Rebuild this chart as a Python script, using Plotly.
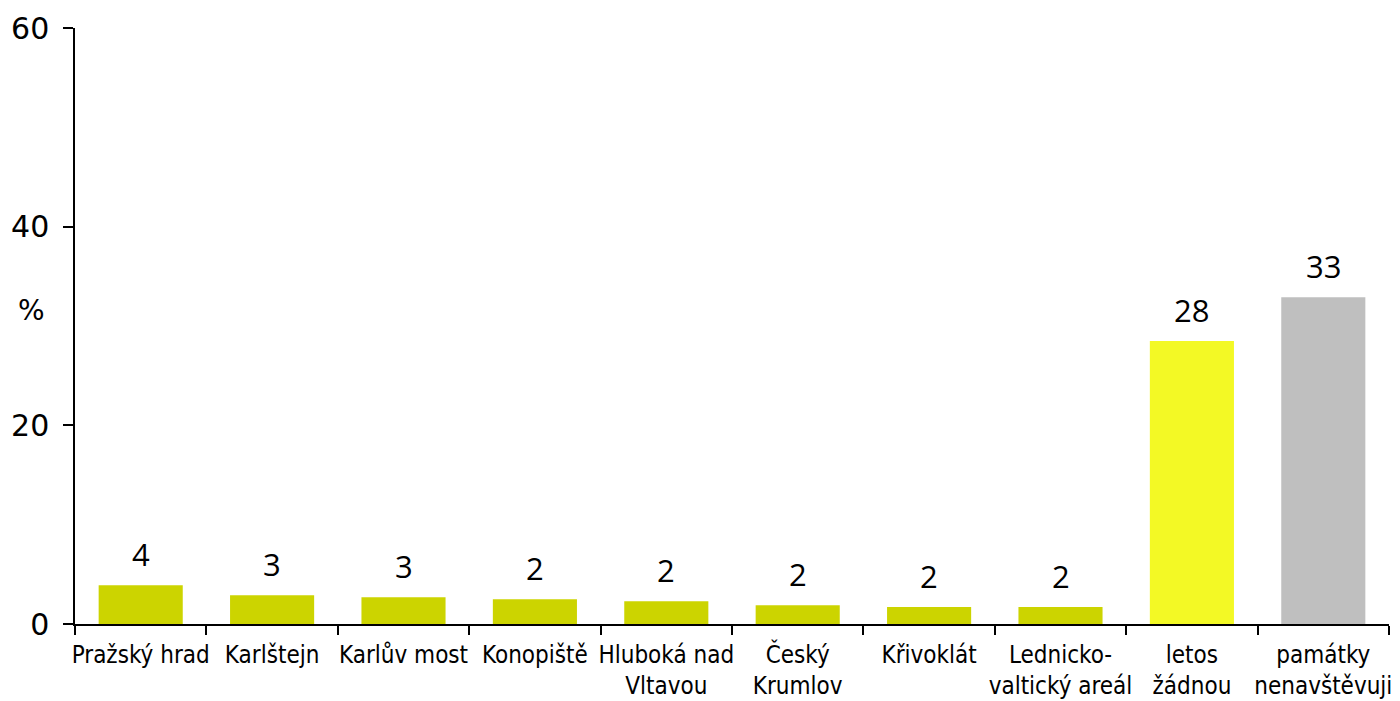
import plotly.graph_objects as go

# Data
categories = ["Pražský hrad", "Karlštejn", "Karlův most", "Konopiště", "Hluboká nad<br>Vltavou",
              "Český<br>Krumlov", "Křivoklát", "Lednicko-<br>valtický areál", "letos<br>žádnou",
              "památky<br>nenavštěvuji"]
values = [3.9, 2.9, 2.7, 2.5, 2.3, 1.9, 1.7, 1.7, 28.5, 32.9]
value_labels = ["4", "3", "3", "2", "2", "2", "2", "2", "28", "33"]
bar_colors = ["#CCD400"] * 8 + ["#F3F925", "#BFBFBF"]

fig = go.Figure()
fig.add_trace(go.Bar(
    x=categories,
    y=values,
    marker=dict(color=bar_colors, line=dict(width=0)),
    hoverinfo="skip",
))

# value labels above bars
for cat, val, lab in zip(categories, values, value_labels):
    fig.add_annotation(
        x=cat, y=val, text=lab, showarrow=False,
        xanchor="center", yanchor="bottom", yshift=8,
        font=dict(family="Open Sans", size=31, color="#000000"),
    )

# page body adds an 8px offset, so the figure is a bit smaller than the window
fig.update_layout(
    width=1392, height=693,
    plot_bgcolor="#ffffff",
    paper_bgcolor="#ffffff",
    margin=dict(l=67, r=11, t=20, b=77),
    bargap=0.36,
    showlegend=False,
    xaxis=dict(
        type="category",
        tickson="boundaries",
        ticks="outside", ticklen=9, tickwidth=1.5, tickcolor="#000000",
        showline=True, linecolor="#000000", linewidth=1.5,
        showgrid=False, automargin=False,
        ticklabelstandoff=8,
        tickfont=dict(family="DejaVu Sans Condensed, Liberation Sans", size=24, color="#000000"),
        tickangle=0,
    ),
    yaxis=dict(
        range=[0, 60],
        tickvals=[0, 20, 40, 60],
        ticks="outside", ticklen=10, tickwidth=1.5, tickcolor="#000000",
        showline=True, linecolor="#000000", linewidth=1.5,
        showgrid=False, zeroline=False, automargin=False,
        ticklabelstandoff=8,
        tickfont=dict(family="DejaVu Sans", size=30, color="#000000"),
    ),
)

fig.add_annotation(
    text="%", x=-0.033, xref="paper", y=31.6, yref="y",
    showarrow=False, xanchor="center", yanchor="middle",
    font=dict(family="DejaVu Sans", size=28, color="#000000"),
)

fig.write_html("out.html")
